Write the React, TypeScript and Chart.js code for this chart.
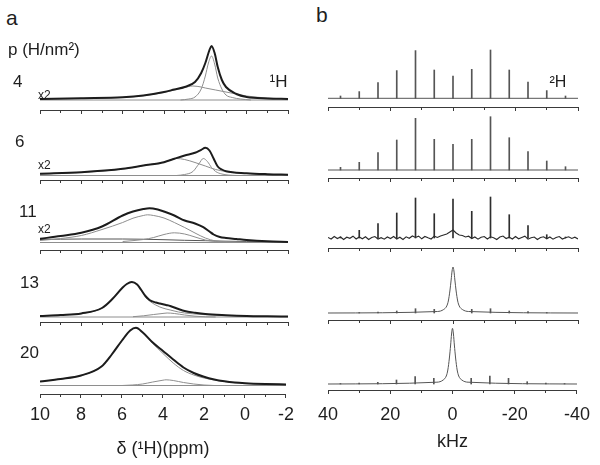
import React, { useEffect, useRef } from 'react';
import { Chart, registerables } from 'chart.js';
Chart.register(...registerables);

const FONT = '"Liberation Sans", Arial, Helvetica, sans-serif';
const TEXT = '#1e1e1e';
const AXIS = '#3a3a3a';
const DARK = '#1c1c1c';
const GRAY = '#8e8e8e';
const SPIKE = '#555555';

// ---------- Panel a : 1H spectra (ppm) ----------
const ppmMin = -2;
const ppmMax = 10;
const loadings = ['4', '6', '11', '13', '20'];

// p = 4
const p4TotX = [10, 8, 6, 5, 4, 3.5, 3, 2.5, 2.2, 2, 1.8, 1.7, 1.55, 1.4, 1.2, 1, 0.5, 0, -1, -2];
const p4TotY = [1, 1.8, 2.7, 4.5, 8, 10.5, 13, 18, 27, 37, 50, 54, 47, 33, 20, 13, 6, 3, 1.5, 1];
const p4BroadX = [10, 8, 6, 5, 4, 3.5, 3, 2.6, 2.2, 2, 1.5, 1, 0.5, 0, -1, -2];
const p4BroadY = [0.8, 1.6, 2.5, 4.3, 7.5, 10, 12.5, 14, 13, 12, 10, 8, 6, 4, 2, 1];
const p4NarrowX = [3.2, 2.8, 2.5, 2.2, 2, 1.85, 1.7, 1.55, 1.4, 1.2, 1, 0.7, 0.3, -0.2];
const p4NarrowY = [0, 1, 3, 11, 24, 37, 44, 36, 22, 11, 5, 2.5, 1, 0];

// p = 6
const p6TotX = [10, 8, 6, 5, 4, 3.5, 3, 2.5, 2.2, 2, 1.8, 1.6, 1.4, 1.2, 1, 0, -1, -2];
const p6TotY = [1.7, 3.3, 6.7, 10, 13.3, 16.7, 20, 22.7, 25.7, 27.7, 25, 17, 9, 6, 4.3, 2.3, 1.3, 0.7];
const p6BroadX = [10, 8, 6, 5, 4, 3.4, 3, 2.5, 2, 1.5, 1, 0, -1, -2];
const p6BroadY = [1.5, 3, 6.5, 10, 13.3, 17, 16, 13, 9.5, 6, 4, 2, 1.2, 0.6];
const p6NarrowX = [3.4, 3, 2.6, 2.3, 2.1, 1.9, 1.7, 1.5, 1.2, 0.9, 0.5];
const p6NarrowY = [0, 1, 4, 12, 17, 14, 8, 4, 1.5, 0.5, 0];

// p = 11
const p11TotX = [10, 9, 8, 7, 6, 5.5, 5, 4.7, 4.3, 4, 3.5, 3, 2.5, 2.1, 1.8, 1.6, 1.3, 1, 0.5, 0, -1, -2];
const p11TotY = [3.7, 6.5, 9.7, 16, 27, 31, 33.5, 34.3, 33, 31, 27, 22, 19, 15.3, 11, 8, 5.5, 4.5, 3.5, 2.5, 1.2, 0.5];
const p11BroadX = [10, 9, 8, 7, 6, 5.5, 5, 4.8, 4.5, 4, 3.5, 3, 2.5, 2, 1.5, 1, 0, -2];
const p11BroadY = [2, 4, 7, 13, 20, 24.3, 27, 27.7, 27, 24.5, 20, 15, 9.5, 4.5, 1.5, 0.7, 0.3, 0];
const p11MidX = [6, 5, 4.5, 4, 3.5, 3, 2.5, 2, 1.5, 1];
const p11MidY = [1, 3, 5, 8, 9.7, 8.5, 5.5, 2.5, 1, 0.3];
const p11FlatX = [10, 8, 6, 4, 3, 2, 1, 0, -2];
const p11FlatY = [3, 3.5, 3.5, 2.8, 2.2, 1.8, 1.3, 1, 0.5];

// p = 13
const p13TotX = [10, 9, 8, 7, 6.5, 6, 5.8, 5.56, 5.3, 5.1, 4.9, 4.7, 4.4, 4.2, 3.9, 3.7, 3.3, 3, 2.5, 2, 1, 0, -1, -2];
const p13TotY = [1, 2, 3.6, 9, 18, 29.5, 33, 35, 32.5, 27, 21, 17, 14.5, 13.5, 12, 11, 8, 6, 4.3, 3, 1.8, 1, 0.7, 0.5];
const p13MainY = [1, 2, 3.6, 9, 18, 29.5, 33, 35, 32.5, 27, 20.5, 16, 12, 10, 8, 7, 5, 4, 3, 2.3, 1.5, 0.8, 0.5, 0.4];
const p13SmallX = [5.5, 5, 4.5, 4, 3.85, 3.5, 3, 2.5, 2, 1.5];
const p13SmallY = [0.3, 1.2, 2.5, 3.7, 4, 3.5, 2, 0.8, 0.2, 0];

// p = 20
const p20TotX = [10, 9, 8, 7, 6.5, 6, 5.6, 5.32, 5, 4.5, 4, 3.5, 3, 2.5, 2, 1.5, 1, 0.5, 0, -1, -2];
const p20TotY = [4, 6.5, 10, 19, 31, 45, 55, 57.7, 53.3, 43, 34.5, 26, 18, 12.5, 8.7, 6, 4.2, 3, 2.3, 1.5, 1];
const p20MainY = [4, 6.5, 10, 19, 31, 45, 55, 57.7, 53, 42, 32, 22.5, 15, 10.5, 7.5, 5.5, 4, 2.8, 2.2, 1.4, 1];
const p20SmallX = [6, 5.5, 5, 4.5, 4, 3.85, 3.5, 3, 2.5, 2, 1.5];
const p20SmallY = [0, 0.5, 1.5, 3.5, 5.3, 5.7, 5, 3, 1.5, 0.5, 0];

const baseX = [10, -2];
const baseY = [0, 0];

// ---------- Panel b : 2H spectra (kHz) ----------
const kHzMin = -40;
const kHzMax = 40;
const sidebandKHz = [36, 30, 24, 18, 12, 6, 0, -6, -12, -18, -24, -30, -36];
const b1Heights = [2.3, 6.7, 15.7, 27.7, 47.7, 28.3, 22.3, 29, 48.3, 28.3, 16.3, 7.7, 2.3];
const b2Heights = [2.7, 7.7, 17.3, 30, 51.7, 30.7, 25.7, 30.7, 53.3, 32.3, 18.3, 9, 3.3];
const b3Heights = [1, 7.7, 14.3, 25, 40, 24.3, 39, 26.7, 41, 23.3, 12.3, 3.3, 1];
const b4Heights = [null, 0.5, 1, 2, 4.3, 3.7, null, 3.7, 4.3, 2, 1.3, 0.5, null];
const b5Heights = [0.5, 1, 1.7, 4, 7.3, 5.7, null, 5.7, 8, 5.7, 2.3, 1, 0.5];

const centerKHz = [40, 5, 3, 2, 1.5, 1, 0.6, 0.3, 0, -0.3, -0.6, -1, -1.5, -2, -3, -5, -40];
const b4Center = [0, 1.5, 3.5, 7, 12, 22, 33, 42, 46, 42, 33, 22, 12, 7, 3.5, 1.5, 0];
const b5Center = [0, 1.8, 4, 8, 14, 26, 39, 50, 55.7, 50, 39, 26, 14, 8, 4, 1.8, 0];

// noisy baseline of the third 2H spectrum, one reading per kHz from 40 to -40
const b3Noise = [
  0.5, -1, 1.5, -0.5, 1, -1.5, 0.8, -0.3, 1.8, -1,
  1, -0.8, 1.2, -1.5, 0.5, 1.5, -1, 0.3, -1.2, 1,
  -0.5, 1.5, -1, 0.8, -1.5, 1.2, -0.3, 2, 0.5, 1.8,
  -0.8, 1.5, 0.2, -1, 1.8, 0.5, 2, 3, 4, 6,
  8,
  5, 3, 2.5, 1, 1.8, -0.5, 1, -1.2, 0.8, 1.5,
  -1, 1.2, 0.3, -1.5, 1, 2, -0.5, 0.8, -1, 1.5,
  -0.8, 0.5, 1.8, -1.2, 0.3, 1, -1.5, 0.5, 1.2, -0.8,
  1, -1.2, 0.6, 1.5, -1, 0.3, 1.2, -0.5, 0.8, -1,
];
const b3NoiseKHz = b3Noise.map((_, i) => kHzMax - i);

type Pt = { x: number; y: number | null };
const pts = (xs: number[], ys: (number | null)[]): Pt[] => xs.map((x, i) => ({ x, y: ys[i] }));

const line = (data: Pt[], color: string, width: number, smooth = true) => ({
  type: 'line' as const,
  data,
  borderColor: color,
  borderWidth: width,
  pointRadius: 0,
  fill: false,
  tension: 0,
  cubicInterpolationMode: smooth ? ('monotone' as const) : ('default' as const),
});

const spikes = (heights: (number | null)[], color = SPIKE) => ({
  type: 'bar' as const,
  data: pts(sidebandKHz, heights),
  backgroundColor: color,
  borderWidth: 0,
  barThickness: 1,
});

function xScale(kind: 'ppm' | 'khz', labels: boolean, tickPad: number, titlePadTop: number) {
  const isPpm = kind === 'ppm';
  return {
    type: 'linear',
    min: isPpm ? ppmMin : kHzMin,
    max: isPpm ? ppmMax : kHzMax,
    reverse: true,
    offset: false,
    border: { display: true, color: AXIS, width: 1 },
    grid: {
      offset: false,
      drawOnChartArea: false,
      drawTicks: true,
      tickLength: 4,
      tickColor: AXIS,
      tickWidth: 1,
      tickBorderDash: (ctx: any) => {
        const v = ctx && ctx.tick ? ctx.tick.value : 0;
        const major = isPpm ? Math.abs(v) % 2 === 0 : Math.abs(v) % 20 === 0;
        return major ? [] : [2, 40];
      },
    },
    ticks: {
      display: labels,
      stepSize: isPpm ? 1 : 10,
      autoSkip: false,
      maxRotation: 0,
      minRotation: 0,
      padding: tickPad,
      color: TEXT,
      font: { size: 18, family: FONT },
      callback: (v: any) => {
        const n = Number(v);
        const major = isPpm ? Math.abs(n) % 2 === 0 : Math.abs(n) % 20 === 0;
        return major ? String(n) : '';
      },
    },
    title: {
      display: labels,
      text: isPpm ? 'δ (¹H)(ppm)' : 'kHz',
      color: TEXT,
      font: { size: 18, family: FONT },
      padding: { top: titlePadTop, bottom: 0 },
    },
  };
}

type Spec = {
  left: number;
  top: number;
  width: number;
  height: number;
  pad: { left: number; right: number; top: number; bottom: number };
  kind: 'ppm' | 'khz';
  labels: boolean;
  tickPad: number;
  titlePadTop: number;
  yMin: number;
  yMax: number;
  datasets: any[];
};

const LEFT_PAD = { left: 40, right: 12, top: 0, bottom: 0 };
const RIGHT_PAD = { left: 28, right: 22, top: 0, bottom: 0 };

const specs: Spec[] = [
  // panel a
  {
    left: 0, top: 38, width: 300, height: 76, pad: LEFT_PAD, kind: 'ppm', labels: false, tickPad: 3, titlePadTop: 0,
    yMin: -10, yMax: 62,
    datasets: [
      line(pts(p4TotX, p4TotY), DARK, 2),
      line(pts(p4NarrowX, p4NarrowY), GRAY, 1),
      line(pts(p4BroadX, p4BroadY), GRAY, 1),
      line(pts(baseX, baseY), GRAY, 1, false),
    ],
  },
  {
    left: 0, top: 128, width: 300, height: 56, pad: LEFT_PAD, kind: 'ppm', labels: false, tickPad: 3, titlePadTop: 0,
    yMin: -4.5, yMax: 47.5,
    datasets: [
      line(pts(p6TotX, p6TotY), DARK, 2),
      line(pts(p6NarrowX, p6NarrowY), GRAY, 1),
      line(pts(p6BroadX, p6BroadY), GRAY, 1),
      line(pts(baseX, baseY), GRAY, 1, false),
    ],
  },
  {
    left: 0, top: 196, width: 300, height: 58, pad: LEFT_PAD, kind: 'ppm', labels: false, tickPad: 3, titlePadTop: 0,
    yMin: -7.5, yMax: 46.5,
    datasets: [
      line(pts(p11TotX, p11TotY), DARK, 2),
      line(pts(p11BroadX, p11BroadY), GRAY, 1),
      line(pts(p11MidX, p11MidY), GRAY, 1),
      line(pts(p11FlatX, p11FlatY), '#555555', 1),
      line(pts(baseX, baseY), GRAY, 1, false),
    ],
  },
  {
    left: 0, top: 268, width: 300, height: 58, pad: LEFT_PAD, kind: 'ppm', labels: false, tickPad: 3, titlePadTop: 0,
    yMin: -5, yMax: 49,
    datasets: [
      line(pts(p13TotX, p13TotY), DARK, 2),
      line(pts(p13TotX, p13MainY), GRAY, 1),
      line(pts(p13SmallX, p13SmallY), GRAY, 1),
      line(pts(baseX, baseY), GRAY, 1, false),
    ],
  },
  {
    left: 0, top: 320, width: 300, height: 142, pad: { left: 40, right: 12, top: 0, bottom: 2.2 }, kind: 'ppm', labels: true, tickPad: 6, titlePadTop: 6.6,
    yMin: -8.5, yMax: 65.5,
    datasets: [
      line(pts(p20TotX, p20TotY), DARK, 2),
      line(pts(p20TotX, p20MainY), GRAY, 1),
      line(pts(p20SmallX, p20SmallY), GRAY, 1),
      line(pts(baseX, baseY), GRAY, 1, false),
    ],
  },
  // panel b
  {
    left: 300, top: 40, width: 300, height: 71, pad: RIGHT_PAD, kind: 'khz', labels: false, tickPad: 3, titlePadTop: 0,
    yMin: -8.7, yMax: 58.3,
    datasets: [spikes(b1Heights), line(pts([kHzMax, kHzMin], [0, 0]), '#555555', 1, false)],
  },
  {
    left: 300, top: 108, width: 300, height: 74, pad: RIGHT_PAD, kind: 'khz', labels: false, tickPad: 3, titlePadTop: 0,
    yMin: -8, yMax: 62,
    datasets: [spikes(b2Heights), line(pts([kHzMax, kHzMin], [0, 0]), '#555555', 1, false)],
  },
  {
    left: 300, top: 185, width: 300, height: 67, pad: RIGHT_PAD, kind: 'khz', labels: false, tickPad: 3, titlePadTop: 0,
    yMin: -10, yMax: 53,
    datasets: [
      spikes(b3Heights, '#2e2e2e'),
      line(pts(b3NoiseKHz, b3Noise), '#2a2a2a', 1.1, false),
    ],
  },
  {
    left: 300, top: 255, width: 300, height: 69, pad: RIGHT_PAD, kind: 'khz', labels: false, tickPad: 3, titlePadTop: 0,
    yMin: -7, yMax: 58,
    datasets: [spikes(b4Heights), line(pts(centerKHz, b4Center), '#555555', 1)],
  },
  {
    left: 300, top: 320, width: 300, height: 136, pad: { left: 28, right: 22, top: 0, bottom: 2.8 }, kind: 'khz', labels: true, tickPad: 10, titlePadTop: -4,
    yMin: -6, yMax: 64,
    datasets: [spikes(b5Heights), line(pts(centerKHz, b5Center), '#555555', 1)],
  },
];

function SpecChart({ spec }: { spec: Spec }) {
  const ref = useRef<HTMLCanvasElement | null>(null);
  useEffect(() => {
    if (!ref.current) return;
    const chart = new Chart(ref.current, {
      type: 'bar',
      data: { datasets: spec.datasets },
      options: {
        responsive: false,
        maintainAspectRatio: false,
        animation: false,
        events: [],
        layout: { padding: spec.pad },
        plugins: { legend: { display: false }, tooltip: { enabled: false } },
        scales: {
          x: xScale(spec.kind, spec.labels, spec.tickPad, spec.titlePadTop) as any,
          y: { type: 'linear', display: false, min: spec.yMin, max: spec.yMax },
        },
      } as any,
    } as any);
    return () => chart.destroy();
  }, []);
  return (
    <canvas
      ref={ref}
      width={spec.width}
      height={spec.height}
      style={{ position: 'absolute', left: spec.left, top: spec.top, width: spec.width, height: spec.height }}
    />
  );
}

type Label = { t: string; x: number; y: number; s: number };
const loadingPos = [
  { x: 13, y: 72.5 },
  { x: 15, y: 132.5 },
  { x: 19, y: 202.5 },
  { x: 20, y: 273.5 },
  { x: 20, y: 343.5 },
];
const labels: Label[] = [
  { t: 'a', x: 6, y: 7, s: 21 },
  { t: 'b', x: 316, y: 4, s: 21 },
  { t: 'p (H/nm²)', x: 8, y: 41, s: 17 },
  ...loadings.map((t, i) => ({ t, x: loadingPos[i].x, y: loadingPos[i].y, s: 17 })),
  { t: 'x2', x: 38, y: 89, s: 12 },
  { t: 'x2', x: 38, y: 158.8, s: 12 },
  { t: 'x2', x: 38, y: 222.5, s: 12 },
  { t: '¹H', x: 269.5, y: 72.8, s: 17 },
  { t: '²H', x: 549.5, y: 73.9, s: 16 },
];

export default function App() {
  return (
    <div style={{ position: 'absolute', left: 0, top: 0, width: 600, height: 465, background: '#fff', overflow: 'hidden' }}>
      {specs.map((s, i) => (
        <SpecChart key={i} spec={s} />
      ))}
      {labels.map((l, i) => (
        <span
          key={'l' + i}
          style={{
            position: 'absolute',
            left: l.x,
            top: l.y,
            fontSize: l.s,
            lineHeight: `${l.s}px`,
            fontFamily: FONT,
            color: TEXT,
            whiteSpace: 'nowrap',
          }}
        >
          {l.t}
        </span>
      ))}
    </div>
  );
}
